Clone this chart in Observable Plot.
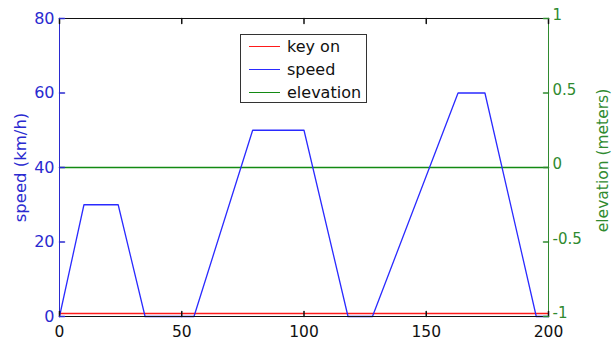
<!DOCTYPE html>
<html><head><meta charset="utf-8">
<script src="https://cdn.jsdelivr.net/npm/d3@7"></script>
<script src="https://cdn.jsdelivr.net/npm/@observablehq/plot@0.6"></script>
<style>
body{margin:0;background:#fff;}
#wrap{position:relative;width:612px;height:340px;font-family:"DejaVu Sans",sans-serif;}
#legend{position:absolute;left:240px;top:34px;width:127px;height:69px;border:1px solid #333;background:#fff;box-sizing:border-box;padding-top:0px;}
.row{display:flex;align-items:center;height:23px;}
.sw{width:31px;height:1.5px;margin-left:8px;margin-right:7px;}
.lab{font-size:16px;color:#111;line-height:23px;}
</style></head>
<body><div id="wrap"><div id="chart"></div><div id="legend"></div></div>
<script>
// data
const time = [0, 10, 24, 35, 55, 79, 100, 118, 128, 163, 174, 195, 200];
const speed = [0, 30, 30, 0, 0, 50, 50, 0, 0, 60, 60, 0, 0];
const keyOnTime = [0, 200];
const keyOn = [0.8, 0.8];
const elevTime = [0, 200];
const elevation = [0, 0];
const xTicks = [0, 50, 100, 150, 200];
const speedTicks = [0, 20, 40, 60, 80];
const elevTicks = [-1, -0.5, 0, 0.5, 1];
const seriesNames = ["key on", "speed", "elevation"];
const seriesColors = ["#ff1a1a", "#2a2aff", "#138a13"];

const blue = "#2a2ad0", green = "#2f8a2f";
const e2s = e => (e + 1) * 40;  // map elevation (-1..1) onto speed scale (0..80)

const tickShape = {draw(ctx, l) { ctx.moveTo(0, 0); ctx.lineTo(0, -l); }};

const speedData = time.map((t, i) => ({t, v: speed[i]}));
const keyData = keyOnTime.map((t, i) => ({t, v: keyOn[i]}));
const elevData = elevTime.map((t, i) => ({t, v: e2s(elevation[i])}));

const chart = Plot.plot({
  width: 612, height: 340,
  marginLeft: 59, marginRight: 64, marginTop: 18, marginBottom: 24,
  style: {fontFamily: "DejaVu Sans, sans-serif", fontSize: "16px", background: "white"},
  x: {domain: [0, 200]},
  y: {domain: [0, 80]},
  marks: [
    Plot.line(keyData, {x: "t", y: "v", stroke: seriesColors[0], strokeWidth: 1.3}),
    Plot.line(elevData, {x: "t", y: "v", stroke: seriesColors[2], strokeWidth: 1.3}),
    Plot.line(speedData, {x: "t", y: "v", stroke: seriesColors[1], strokeWidth: 1.3}),
    Plot.ruleY([0, 80], {stroke: "#111"}),
    Plot.ruleX([0], {stroke: blue}),
    Plot.ruleX([200], {stroke: green}),
    // inward ticks
    Plot.vector(xTicks, {x: d => d, y: 0, length: 5, rotate: 0, anchor: "start", shape: tickShape, stroke: "#111"}),
    Plot.vector(xTicks, {x: d => d, y: 80, length: 5, rotate: 180, anchor: "start", shape: tickShape, stroke: "#111"}),
    Plot.vector(speedTicks, {x: 0, y: d => d, length: 5, rotate: 90, anchor: "start", shape: tickShape, stroke: blue}),
    Plot.vector(elevTicks, {x: 200, y: d => e2s(d), length: 5, rotate: -90, anchor: "start", shape: tickShape, stroke: green}),
    // tick labels
    Plot.axisX(xTicks, {anchor: "bottom", tickSize: 0, tickPadding: 9, fontSize: 15.5, color: "#111", label: null}),
    Plot.axisY(speedTicks, {anchor: "left", tickSize: 0, tickPadding: 5, fontSize: 16, color: blue, label: null}),
    Plot.axisY(elevTicks.map(e2s), {anchor: "right", tickSize: 0, tickPadding: 4, dy: -3, fontSize: 15, color: green, label: null,
      tickFormat: d => String(d / 40 - 1)}),
    // axis titles
    Plot.text(["speed (km/h)"], {frameAnchor: "left", dx: -39, rotate: -90, textAnchor: "middle", fill: blue, fontSize: 16.5}),
    Plot.text(["elevation (meters)"], {frameAnchor: "right", dx: 55, dy: -7, rotate: -90, textAnchor: "middle", fill: green, fontSize: 15.5})
  ]
});
document.getElementById("chart").appendChild(chart);

const leg = document.getElementById("legend");
seriesNames.forEach((n, i) => {
  const r = document.createElement("div"); r.className = "row";
  const s = document.createElement("div"); s.className = "sw"; s.style.background = seriesColors[i];
  const l = document.createElement("span"); l.className = "lab"; l.textContent = n;
  r.appendChild(s); r.appendChild(l); leg.appendChild(r);
});
</script></body></html>
